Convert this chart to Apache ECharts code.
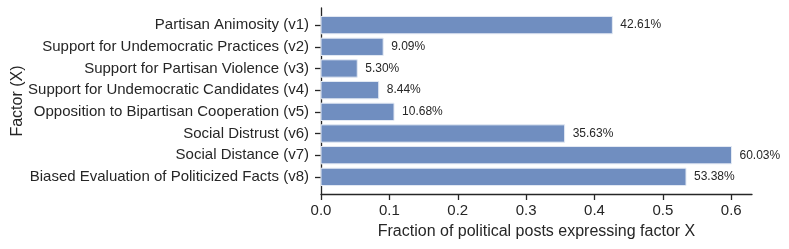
<!DOCTYPE html>
<html>
<head>
<meta charset="utf-8">
<script src="https://cdn.jsdelivr.net/npm/echarts@6/dist/echarts.min.js"></script>
<style>
html,body{margin:0;padding:0;background:#fff;}
#chart{width:789px;height:249px;}
</style>
</head>
<body>
<div id="chart"></div>
<script>
const categories = [
  "Partisan Animosity (v1)",
  "Support for Undemocratic Practices (v2)",
  "Support for Partisan Violence (v3)",
  "Support for Undemocratic Candidates (v4)",
  "Opposition to Bipartisan Cooperation (v5)",
  "Social Distrust (v6)",
  "Social Distance (v7)",
  "Biased Evaluation of Politicized Facts (v8)"
];
const values = [0.4261, 0.0909, 0.0530, 0.0844, 0.1068, 0.3563, 0.6003, 0.5338];
const xTicks = [0, 0.1, 0.2, 0.3, 0.4, 0.5, 0.6];
const yTicks = [0, 1, 2, 3, 4, 5, 6, 7];

const FONT = "Liberation Sans, Arial, sans-serif";
const TXT = "#262626";
const chart = echarts.init(document.getElementById('chart'), null, {renderer: 'canvas'});

const data = values.map((v, i) => [v, i]);

chart.setOption({
  animation: false,
  textStyle: {fontFamily: FONT},
  grid: {left: 321, right: 37, top: 8, bottom: 55, containLabel: false, outerBoundsMode: 'none'},
  xAxis: {
    type: 'value', min: 0, max: 0.6303,
    name: 'Fraction of political posts expressing factor X',
    nameLocation: 'middle', nameGap: 30, nameMoveOverlap: false,
    nameTextStyle: {fontSize: 16, color: TXT, fontFamily: FONT},
    axisLine: {show: true, onZero: false, lineStyle: {color: TXT, width: 1.3}},
    axisTick: {show: true, length: 6, lineStyle: {color: TXT, width: 1.3}, customValues: xTicks},
    axisLabel: {color: TXT, fontSize: 15, fontFamily: FONT, margin: 9, customValues: xTicks,
      formatter: v => v.toFixed(1)},
    splitLine: {show: false}
  },
  yAxis: {
    type: 'value', inverse: true, min: -0.79, max: 7.79,
    name: 'Factor (X)', nameLocation: 'middle', nameGap: 295, nameRotate: 90, nameMoveOverlap: false,
    nameTextStyle: {fontSize: 16, color: TXT, fontFamily: FONT},
    axisLine: {show: true, onZero: false, lineStyle: {color: TXT, width: 1.3}},
    axisTick: {show: true, length: 6, lineStyle: {color: TXT, width: 1.3}, customValues: yTicks},
    axisLabel: {color: TXT, fontSize: 15, fontFamily: FONT, margin: 12, customValues: yTicks,
      formatter: v => categories[Math.round(v)] || ''},
    splitLine: {show: false}
  },
  series: [{
    type: 'custom',
    data: data,
    encode: {x: 0, y: 1},
    renderItem: function (params, api) {
      const v = api.value(0), idx = api.value(1);
      const start = api.coord([0, idx]);
      const end = api.coord([v, idx]);
      const h = Math.abs(api.size([0, 0.8])[1]);
      return {
        type: 'group',
        children: [{
          type: 'rect',
          shape: {x: start[0], y: start[1] - h / 2, width: end[0] - start[0], height: h},
          style: {fill: '#708ec0', stroke: '#e4eaf4', lineWidth: 1}
        }, {
          type: 'text',
          x: end[0] + 8, y: end[1],
          style: {text: (v * 100).toFixed(2) + '%', fill: TXT, fontSize: 12, fontFamily: FONT,
            verticalAlign: 'middle', align: 'left'}
        }]
      };
    }
  }]
});
</script>
</body>
</html>
